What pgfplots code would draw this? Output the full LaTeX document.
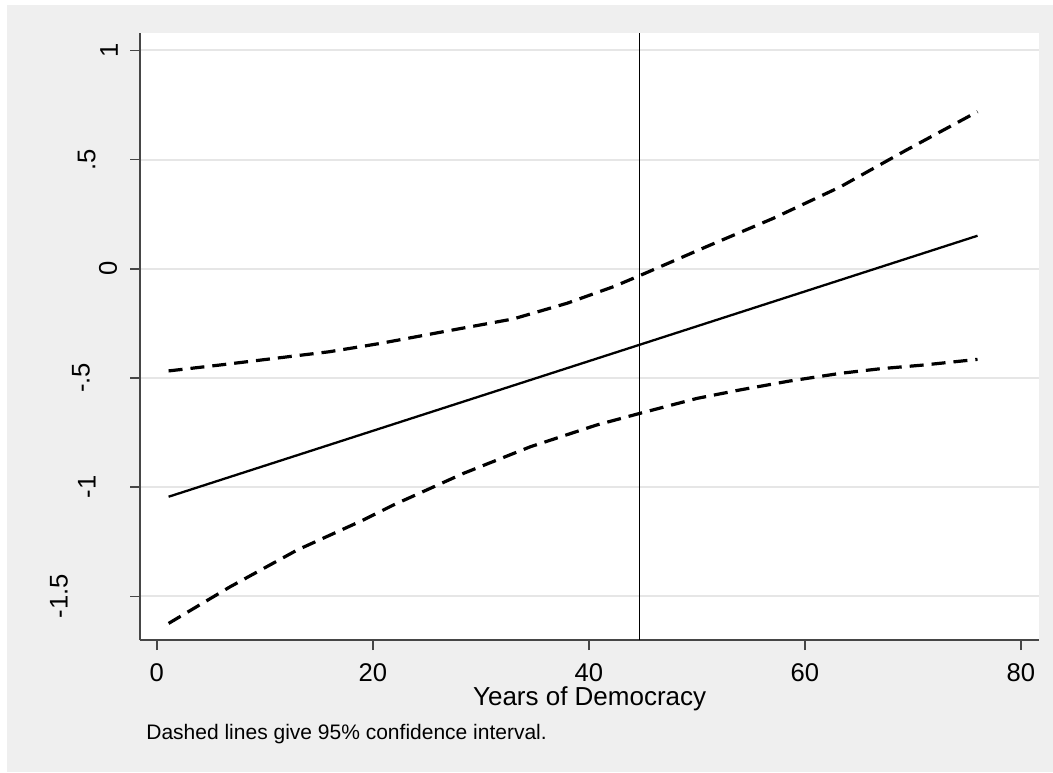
\documentclass[border=0pt]{standalone}
\usepackage{fontspec}
\setmainfont{Liberation Sans}
\usepackage{pgfplots}
\pgfplotsset{compat=1.18}
\definecolor{bgray}{RGB}{239,239,239}
\definecolor{gridgray}{RGB}{230,230,230}
\definecolor{axgray}{RGB}{70,70,70}
\begin{document}
\begin{tikzpicture}
\useasboundingbox (0,0) rectangle (526.5pt,386pt);
\fill[white] (0,0) rectangle (526.5pt,386pt);
\fill[bgray] (3.5pt,0) rectangle (526.5pt,383.5pt);
\begin{axis}[
  at={(70.15pt,66pt)}, anchor=south west,
  scale only axis, width=449.35pt, height=303.65pt,
  xmin=-1.53, xmax=81.69, ymin=-1.700, ymax=1.0806,
  axis background/.style={fill=white},
  axis x line*=bottom, axis y line*=left,
  axis line style={color=axgray, line width=0.9pt},
  xtick={0,20,40,60,80},
  ytick={-1.5,-1,-0.5,0,0.5,1},
  yticklabels={},
  tick align=outside, major tick length=5pt,
  tick style={color=axgray, line width=0.8pt},
  ymajorgrids, grid style={color=gridgray, line width=1pt},
  /pgf/number format/assume math mode=true,
  ticklabel style={font=\fontsize{12.8}{15}\selectfont},
  xticklabel style={anchor=base, inner sep=0pt, yshift=-15.6pt},
  every axis x label/.style={at={(axis description cs:0.5,0)}, anchor=base, inner sep=0pt, yshift=-32.5pt, font=\fontsize{13}{15}\selectfont},
  xlabel={Years of Democracy},
  clip=false,
]
\addplot[black, line width=0.5pt] coordinates {(44.69,-1.700) (44.69,1.0806)};
\addplot[black, line width=1.15pt] coordinates {(1.09,-1.044) (76.0,0.151)};
\addplot[black, line width=1.6pt, dash pattern=on 7pt off 4pt] coordinates {
(1.09,-0.468) (6,-0.440) (11,-0.410) (16,-0.380) (20.7,-0.342) (26.9,-0.285) (33.0,-0.230) (38.0,-0.158) (42.3,-0.082) (44.7,-0.032) (50.9,0.101) (57.1,0.231) (63.3,0.375) (69.4,0.543) (76.0,0.719)};
\addplot[black, line width=1.6pt, dash pattern=on 7pt off 4pt] coordinates {
(1.09,-1.624) (6.8,-1.456) (13.0,-1.288) (19.1,-1.151) (21.9,-1.082) (28.4,-0.937) (34.6,-0.815) (40.7,-0.716) (44.75,-0.662) (50,-0.594) (54.0,-0.555) (58.5,-0.515) (63.3,-0.479) (67,-0.458) (71.0,-0.441) (76.0,-0.415)};
\begin{scope}[every node/.style={rotate=90, anchor=center, inner sep=0pt, font=\fontsize{12.8}{15}\selectfont}]
\node at ([xshift=-40.65pt]axis cs:-1.53,-1.5) {-1.5};
\node at ([xshift=-26.8pt]axis cs:-1.53,-1) {-1};
\node at ([xshift=-29.65pt]axis cs:-1.53,-0.5) {-.5};
\node at ([xshift=-16.15pt]axis cs:-1.53,0) {0};
\node at ([xshift=-26.8pt]axis cs:-1.53,0.5) {.5};
\node at ([xshift=-15.65pt]axis cs:-1.53,1) {1};
\end{scope}
\end{axis}
\node[anchor=base west, inner sep=0pt, font=\fontsize{10.5}{12}\selectfont] at (73pt,16.5pt) {Dashed lines give 95\% confidence interval.};
\end{tikzpicture}
\end{document}
